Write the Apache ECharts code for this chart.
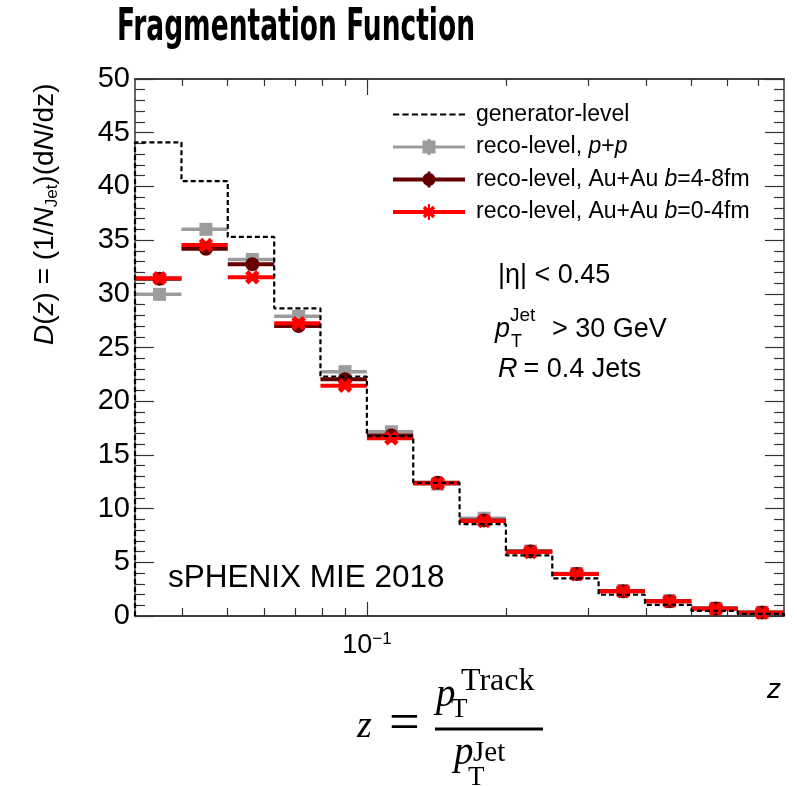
<!DOCTYPE html>
<html>
<head>
<meta charset="utf-8">
<script src="https://cdn.jsdelivr.net/npm/echarts@6/dist/echarts.min.js"></script>
<style>
  html, body { margin: 0; padding: 0; background: #ffffff; }
  #chart { width: 797px; height: 786px; }
</style>
</head>
<body>
<div id="chart"></div>
<script>
// z bin edges: 14 bins, each 0.1 decade wide
const binEdges = [0.0316, 0.0398, 0.0501, 0.0631, 0.0794, 0.1, 0.1259, 0.1585,
                  0.1995, 0.2512, 0.3162, 0.3981, 0.5012, 0.6310, 0.7943];

// D(z) per bin
const genLevel        = [44.1, 40.5, 35.3, 28.65, 22.3, 16.75, 12.4, 8.55, 5.65, 3.5, 1.98, 1.03, 0.48, 0.2];
const recoPP          = [29.95, 36.0, 33.2, 27.9, 22.75, 17.15, 12.3, 9.1, 6.05, 3.95, 2.35, 1.4, 0.72, 0.33];
const recoAuAuMid     = [31.4, 34.2, 32.75, 27.0, 22.05, 16.8, 12.4, 8.9, 6.0, 3.9, 2.3, 1.38, 0.7, 0.32];
const recoAuAuCentral = [31.45, 34.55, 31.55, 27.25, 21.45, 16.55, 12.35, 8.85, 5.95, 3.9, 2.3, 1.38, 0.68, 0.3];

// axis ticks
const xMajorTicks = [0.1];
const xMinorTicks = [0.04, 0.05, 0.06, 0.07, 0.08, 0.09, 0.2, 0.3, 0.4, 0.5, 0.6, 0.7];
const yRange = [0, 50];
const yStep = 5;

const SANS = '"Liberation Sans", Arial, Helvetica, sans-serif';
const SERIF = '"Liberation Serif", "Times New Roman", serif';
const AXIS_COLOR = '#333';

const lg = v => Math.log10(v);

// Marker drawn at the bin centre
function markerShape(kind, cx, cy, color) {
  if (kind === 'square') {
    return { type: 'rect', shape: { x: cx - 6.5, y: cy - 6.5, width: 13, height: 13 }, style: { fill: color } };
  }
  if (kind === 'circle') {
    return { type: 'circle', shape: { cx: cx, cy: cy, r: 7 }, style: { fill: color } };
  }
  const d = 5.5;
  return {
    type: 'group',
    children: [
      { type: 'line', shape: { x1: cx - d, y1: cy - d, x2: cx + d, y2: cy + d }, style: { stroke: color, lineWidth: 5 } },
      { type: 'line', shape: { x1: cx + d, y1: cy - d, x2: cx - d, y2: cy + d }, style: { stroke: color, lineWidth: 5 } }
    ]
  };
}

// Horizontal bar across each bin plus its marker
function binSeries(name, values, color, marker, barWidth, z) {
  return {
    type: 'custom',
    name: name,
    z: z,
    xAxisIndex: 0,
    yAxisIndex: 0,
    itemStyle: { color: color },
    encode: { x: [0, 1, 3], y: 2 },
    data: values.map((v, i) => [lg(binEdges[i]), lg(binEdges[i + 1]), v,
                                lg((binEdges[i] + binEdges[i + 1]) / 2)]),
    renderItem: function (params, api) {
      const lo = api.coord([api.value(0), api.value(2)]);
      const hi = api.coord([api.value(1), api.value(2)]);
      const mid = api.coord([api.value(3), api.value(2)]);
      return {
        type: 'group',
        children: [
          { type: 'line', shape: { x1: lo[0], y1: lo[1], x2: hi[0], y2: hi[1] },
            style: { stroke: color, lineWidth: barWidth } },
          markerShape(marker, mid[0], mid[1], color)
        ]
      };
    }
  };
}

// Step outline of the generator-level histogram
const genStep = [[lg(binEdges[0]), 0]]
  .concat(genLevel.map((v, i) => [lg(binEdges[i]), v]))
  .concat([[lg(binEdges[binEdges.length - 1]), genLevel[genLevel.length - 1]],
           [lg(binEdges[binEdges.length - 1]), 0]]);

// Text placed by its left edge / baseline
function txt(text, x, baseline, size, extra) {
  const fam = (extra && extra.fontFamily) || SANS;
  const k = fam === SERIF ? 0.3375 : 0.3465;
  return {
    type: 'text', x: x, y: baseline - k * size, silent: true,
    scaleX: (extra && extra.scaleX) || 1,
    style: Object.assign({ text: text, fontSize: size, fontFamily: SANS, fill: '#000',
                           align: 'left', verticalAlign: 'middle' }, extra || {})
  };
}

// Title, condensed to its set width
const TITLE_FONT = '"Liberation Sans Narrow", "DejaVu Sans Condensed", "Liberation Sans", sans-serif';
const titleText = 'Fragmentation Function';
const titleSize = 44;
const ctx = document.createElement('canvas').getContext('2d');
ctx.font = 'bold ' + titleSize + 'px ' + TITLE_FONT;
const titleScale = 358 / ctx.measureText(titleText).width;

const legendIcons = {
  gen: 'path://M0,0h6v1.8h-6z M9,0h6v1.8h-6z M18,0h6v1.8h-6z M27,0h6v1.8h-6z M36,0h6v1.8h-6z M45,0h6v1.8h-6z M54,0h6v1.8h-6z M63,0h6v1.8h-6z',
  pp: 'path://M0,6.5h72v3h-72z M29.5,1.5h13v13h-13z M34.5,0h3v16h-3z',
  mid: 'path://M0,6h72v4h-72z M34.5,0h3v16h-3z M29.5,8C29.5,4.41 32.41,1.5 36,1.5C39.59,1.5 42.5,4.41 42.5,8C42.5,11.59 39.59,14.5 36,14.5C32.41,14.5 29.5,11.59 29.5,8z',
  central: 'path://M0,6h72v4h-72z M35,0h2v16h-2z M32.27,1.73L42.27,11.73L39.73,14.27L29.73,4.27z M42.27,4.27L32.27,14.27L29.73,11.73L39.73,1.73z'
};

const legendNames = {
  'generator-level': '{n|generator-level}',
  'reco-level, p+p': '{n|reco-level, }{i|p}{n|+}{i|p}',
  'reco-level, Au+Au b=4-8fm': '{n|reco-level, Au+Au }{i|b}{n|=4-8fm}',
  'reco-level, Au+Au b=0-4fm': '{n|reco-level, Au+Au }{i|b}{n|=0-4fm}'
};

function xAxisCfg(position, ticks, len, withLabel) {
  return {
    type: 'value', position: position,
    min: lg(binEdges[0]), max: lg(binEdges[binEdges.length - 1]),
    axisLine: { show: true, onZero: false, lineStyle: { color: AXIS_COLOR, width: 1.5 } },
    axisTick: { show: true, inside: true, length: len, customValues: ticks.map(lg),
                lineStyle: { color: AXIS_COLOR, width: 1.2 } },
    axisLabel: withLabel ? {
      show: true, customValues: ticks.map(lg), margin: 15,
      formatter: v => { const e = Math.round(v); return '{b|10}{s|' + (e < 0 ? '\u2212' : '') + Math.abs(e) + '}'; },
      rich: {
        b: { fontSize: 27, fontFamily: SANS, color: '#000', lineHeight: 30 },
        s: { fontSize: 17, fontFamily: SANS, color: '#000', lineHeight: 30, verticalAlign: 'top', padding: [0, 0, 16, 0] }
      }
    } : { show: false },
    splitLine: { show: false }
  };
}

function yAxisCfg(position, withLabel) {
  return {
    type: 'value', position: position,
    min: yRange[0], max: yRange[1], interval: yStep,
    axisLine: { show: true, onZero: false, lineStyle: { color: AXIS_COLOR, width: 1.5 } },
    axisTick: { show: true, inside: true, length: 19, lineStyle: { color: AXIS_COLOR, width: 1.2 } },
    minorTick: { show: true, splitNumber: 5, length: 10, lineStyle: { color: AXIS_COLOR, width: 1.2 } },
    axisLabel: withLabel ? { show: true, margin: 5, fontSize: 29, fontFamily: SANS, color: '#000' } : { show: false },
    splitLine: { show: false },
    minorSplitLine: { show: false }
  };
}

const chart = echarts.init(document.getElementById('chart'), null, { renderer: 'canvas' });

chart.setOption({
  animation: false,
  backgroundColor: '#ffffff',
  grid: { left: 135, right: 13, top: 79, bottom: 170, containLabel: false },
  xAxis: [
    xAxisCfg('bottom', xMajorTicks, 14, true),
    xAxisCfg('bottom', xMinorTicks, 8, false),
    xAxisCfg('top', xMajorTicks, 16, false),
    xAxisCfg('top', xMinorTicks, 7, false)
  ],
  yAxis: [yAxisCfg('left', true), yAxisCfg('right', false)],
  legend: {
    orient: 'vertical', left: 388, top: 98, itemGap: 9.5,
    itemWidth: 72, itemHeight: 16, selectedMode: false,
    formatter: name => legendNames[name],
    textStyle: {
      padding: [0, 0, 0, 6],
      rich: {
        n: { fontSize: 23, fontFamily: SANS, color: '#000', lineHeight: 24 },
        i: { fontSize: 23, fontFamily: SANS, color: '#000', lineHeight: 24, fontStyle: 'italic' }
      }
    },
    data: [
      { name: 'generator-level', icon: legendIcons.gen, itemStyle: { color: '#000', borderWidth: 0 } },
      { name: 'reco-level, p+p', icon: legendIcons.pp, itemStyle: { color: '#9c9c9c', borderWidth: 0 } },
      { name: 'reco-level, Au+Au b=4-8fm', icon: legendIcons.mid, itemStyle: { color: '#640000', borderWidth: 0 } },
      { name: 'reco-level, Au+Au b=0-4fm', icon: legendIcons.central, itemStyle: { color: '#ff0000', borderWidth: 0 } }
    ]
  },
  series: [
    {
      type: 'line', name: 'generator-level', step: 'end', z: 5,
      xAxisIndex: 0, yAxisIndex: 0,
      showSymbol: false, symbol: 'none',
      itemStyle: { color: '#000' },
      lineStyle: { color: '#000', width: 2.2, type: [5, 3] },
      data: genStep
    },
    binSeries('reco-level, p+p', recoPP, '#9c9c9c', 'square', 3.5, 2),
    binSeries('reco-level, Au+Au b=4-8fm', recoAuAuMid, '#640000', 'circle', 4, 3),
    binSeries('reco-level, Au+Au b=0-4fm', recoAuAuCentral, '#ff0000', 'cross', 4, 4)
  ],
  graphic: [
    // title
    {
      type: 'text', x: 296, y: 44 - 0.3465 * titleSize, scaleX: titleScale, silent: true,
      style: { text: titleText, fontSize: titleSize, fontWeight: 'bold', fontFamily: TITLE_FONT,
               fill: '#000', align: 'center', verticalAlign: 'middle' }
    },
    // y-axis title, right-aligned to the top of the frame
    {
      type: 'text', x: 45, y: 345, rotation: Math.PI / 2, silent: true,
      style: {
        text: '{i|D}{n|(}{i|z}{n|) = (1/}{i|N}{s|Jet}{n|)(d}{i|N}{n|/dz)}',
        align: 'left', verticalAlign: 'middle',
        rich: {
          n: { fontSize: 28, fontFamily: SANS, fill: '#000', lineHeight: 32 },
          i: { fontSize: 28, fontFamily: SANS, fill: '#000', lineHeight: 32, fontStyle: 'italic' },
          s: { fontSize: 17, fontFamily: SANS, fill: '#000', lineHeight: 19, verticalAlign: 'bottom' }
        }
      }
    },
    // x-axis title
    txt('z', 767, 700, 28, { fontStyle: 'italic' }),
    // kinematic cuts
    txt('|\u03b7| < 0.45', 498, 285, 27),
    txt('p', 495, 339, 27, { fontStyle: 'italic' }),
    txt('Jet', 510, 322, 19),
    txt('T', 511, 348, 18),
    txt('> 30 GeV', 552, 339, 27),
    txt('R', 498, 379, 27, { fontStyle: 'italic' }),
    txt(' = 0.4 Jets', 516, 379, 27),
    txt('sPHENIX MIE 2018', 168, 589, 31.5),
    // z definition
    txt('z', 357, 740, 38, { fontFamily: SERIF, fontStyle: 'italic' }),
    txt('=', 389, 743, 52, { fontFamily: SERIF, scaleX: 1.05 }),
    { type: 'rect', shape: { x: 435, y: 727.5, width: 108, height: 3 }, style: { fill: '#000' }, silent: true },
    txt('p', 436, 709, 39, { fontFamily: SERIF, fontStyle: 'italic' }),
    txt('T', 451, 719, 27, { fontFamily: SERIF }),
    txt('Track', 461, 692, 32, { fontFamily: SERIF }),
    txt('p', 454, 767, 39, { fontFamily: SERIF, fontStyle: 'italic' }),
    txt('Jet', 473, 763, 29, { fontFamily: SERIF }),
    txt('T', 468, 787, 27, { fontFamily: SERIF })
  ]
});
</script>
</body>
</html>
